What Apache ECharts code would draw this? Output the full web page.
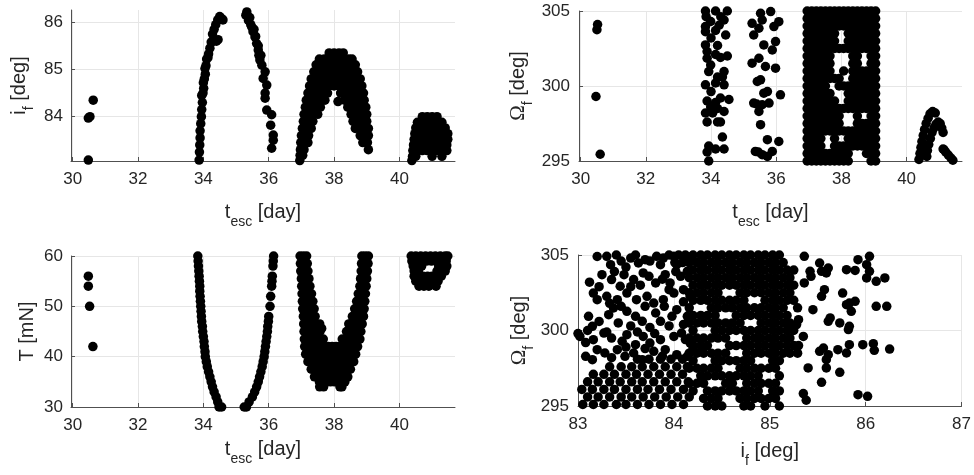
<!DOCTYPE html>
<html><head><meta charset="utf-8">
<script src="https://cdn.jsdelivr.net/npm/echarts@6/dist/echarts.min.js"></script>
<style>html,body{margin:0;padding:0;background:#fff}#c{width:974px;height:475px}</style>
</head><body><div id="c"></div>
<script>
// ---------------- tick labels ----------------
const tescTicks = [30, 32, 34, 36, 38, 40];
const incTicks = [84, 85, 86];

// ---------------- Panel 1: t_esc vs i_f ----------------
const p1Early = [[30.48,83.08],[30.48,83.97],[30.53,84.0],[30.63,84.35]];
const p1Rise = [[33.87,83.08],[33.88,83.25],[33.89,83.4],[33.9,83.55],[33.9,83.7],[33.92,83.85],[33.94,84.0],[33.95,84.15],[33.97,84.3],[33.95,84.45],[33.99,84.5],[34.01,84.6],[34.0,84.72],[34.03,84.8],[34.06,84.9],[34.05,85.02],[34.08,85.08],[34.1,85.22],[34.14,85.25],[34.16,85.33],[34.2,85.45],[34.24,85.58],[34.3,85.6],[34.4,85.6],[34.45,85.63],[34.28,85.75],[34.33,85.85],[34.38,85.95],[34.44,86.05],[34.5,86.12],[34.56,86.08],[34.6,86.05]];
const p1Fall = [[35.33,86.22],[35.3,86.15],[35.38,86.04],[35.42,86.1],[35.45,85.95],[35.48,85.9],[35.52,85.8],[35.55,85.85],[35.58,85.69],[35.6,85.7],[35.63,85.55],[35.68,85.5],[35.68,85.41],[35.7,85.3],[35.76,85.3],[35.73,85.2],[35.79,85.09],[35.89,84.95],[35.83,84.81],[35.94,84.67],[35.89,84.5],[35.89,84.39],[35.94,84.14],[36.09,84.04],[36.06,83.82],[36.14,83.61],[36.14,83.5],[36.09,83.33]];
// rows: [i_f, [t_esc ...]]
const p1BlobRows = [
 [85.35,[37.85,38.0,38.15,38.28]],
 [85.22,[37.55,37.7,37.85,38.0,38.15,38.3,38.45,38.55]],
 [85.1,[37.45,37.6,37.75,37.9,38.05,38.2,38.35,38.5,38.65]],
 [84.95,[37.38,37.52,37.66,37.8,37.94,38.08,38.22,38.36,38.5,38.64,38.72]],
 [84.8,[37.3,37.45,37.6,37.75,37.9,38.05,38.2,38.35,38.5,38.65,38.8]],
 [84.65,[37.25,37.4,37.55,37.7,37.85,38.0,38.15,38.3,38.45,38.6,38.75,38.85]],
 [84.5,[37.2,37.35,37.5,37.65,37.8,38.2,38.35,38.5,38.65,38.8,38.9]],
 [84.35,[37.15,37.3,37.45,37.6,37.72,38.32,38.47,38.62,38.77,38.92]],
 [84.2,[37.12,37.27,37.42,37.58,38.42,38.57,38.72,38.87,38.97]],
 [84.05,[37.08,37.22,37.36,37.5,38.52,38.66,38.8,38.94,39.0]],
 [83.9,[37.06,37.2,37.35,38.58,38.72,38.86,39.0]],
 [83.75,[37.03,37.16,37.3,38.65,38.8,38.95,39.05]],
 [83.6,[37.0,37.12,37.22,38.8,38.95,39.05]],
 [83.45,[36.98,37.1,37.2,38.88,39.02]],
 [83.3,[36.97,37.08,39.05]],
 [83.18,[36.96,37.04]],
 [83.07,[36.95]]
];
const p1Lone = [[38.12,84.32]];
const p1LateRows = [
 [84.0,[40.7,40.85,41.0,41.15]],
 [83.88,[40.55,40.7,40.85,41.0,41.15,41.3]],
 [83.76,[40.5,40.65,40.8,40.95,41.1,41.25,41.4]],
 [83.64,[40.47,40.62,40.77,40.92,41.07,41.22,41.37,41.48]],
 [83.52,[40.45,40.6,40.75,40.9,41.05,41.2,41.35,41.48]],
 [83.4,[40.43,40.58,40.73,40.88,41.03,41.18,41.33,41.45]],
 [83.28,[40.41,40.55,40.7,40.85,41.0,41.12,41.32,41.45]],
 [83.16,[40.4,40.5,41.0,41.3]],
 [83.07,[40.38]]
];

// ---------------- Panel 2: t_esc vs Omega_f ----------------
const p2Early = [[30.52,304.1],[30.5,303.75],[30.47,299.3],[30.6,295.45]];
const p2Group34 = [[33.83,305.0],[34.14,305.0],[34.5,305.0],[33.85,304.62],[34.3,304.62],[33.99,304.3],[34.4,304.4],[33.83,303.96],[34.25,304.05],[33.83,303.62],[34.14,303.7],[34.45,303.4],[34.0,303.2],[33.83,302.74],[34.2,302.7],[33.88,302.3],[34.14,302.1],[34.5,302.0],[33.88,301.85],[34.29,301.9],[33.99,301.4],[34.4,300.96],[33.93,300.96],[34.2,300.6],[34.35,300.6],[33.83,300.08],[34.14,300.2],[34.4,300.08],[34.0,299.63],[33.88,299.0],[34.29,299.2],[34.14,298.9],[34.55,299.1],[33.99,298.6],[34.2,298.5],[34.4,298.3],[33.83,298.2],[34.05,298.2],[33.88,297.6],[34.2,297.6],[34.29,297.6],[34.35,296.6],[33.93,296.0],[34.14,295.8],[34.4,295.8],[33.88,295.6],[33.93,295.0]];
const p2Group35 = [[35.52,304.85],[35.83,304.96],[36.08,304.29],[35.26,304.18],[35.57,304.4],[35.47,303.85],[35.93,303.96],[35.31,303.4],[35.62,302.74],[35.98,302.96],[35.88,302.4],[35.47,301.85],[35.26,301.52],[35.67,301.3],[35.98,301.19],[35.52,300.41],[35.42,300.3],[35.73,299.63],[35.62,299.52],[36.13,299.41],[35.31,298.86],[35.4,298.8],[35.57,298.75],[35.78,298.86],[35.47,298.3],[35.52,297.42],[35.73,296.42],[36.08,296.3],[35.36,295.64],[35.57,295.42],[35.73,295.3],[35.88,295.64],[35.45,295.6]];
// rows: [Omega_f, [t_esc ...]]
const p2BlockRows = [
 [305.0,[36.95,37.09,37.23,37.37,37.51,37.65,37.79,37.93,38.07,38.21,38.35,38.49,38.63,38.77,38.91,39.05]],
 [304.5,[36.95,37.09,37.23,37.37,37.51,37.65,37.79,37.93,38.07,38.21,38.35,38.49,38.63,38.77,38.91,39.05]],
 [304.0,[36.95,37.09,37.23,37.37,37.51,37.65,37.79,37.93,38.07,38.21,38.35,38.49,38.63,38.77,38.91,39.05]],
 [303.5,[36.95,37.09,37.23,37.37,37.51,37.65,37.79,38.21,38.35,38.49,38.63,38.77,38.91,39.05]],
 [303.0,[36.95,37.09,37.23,37.37,37.51,37.65,37.79,38.21,38.35,38.49,38.63,38.77,38.91,39.05]],
 [302.5,[36.95,37.09,37.23,37.37,37.51,37.65,37.79,37.93,38.07,38.21,38.35,38.49,38.63,38.77,38.91,39.05]],
 [302.0,[36.95,37.09,37.23,37.37,37.51,37.65,38.35,38.49,38.91,39.05]],
 [301.5,[36.95,37.09,37.23,37.37,37.51,37.65,38.35,38.49,38.91,39.05]],
 [301.0,[36.95,37.09,37.23,37.37,37.51,37.65,38.07,38.35,38.49,38.63,38.77,38.91,39.05]],
 [300.5,[36.95,37.09,37.23,37.37,37.51,37.65,37.79,37.93,38.35,38.49,38.63,38.77,38.91,39.05]],
 [300.0,[36.95,37.09,37.23,37.37,37.51,37.93,38.07,38.21,38.35,38.49,38.63,38.77,38.91,39.05]],
 [299.5,[36.95,37.09,37.23,37.37,37.51,37.65,38.21,38.35,38.49,38.63,38.77,38.91,39.05]],
 [299.0,[36.95,37.09,37.23,37.37,37.51,37.65,37.79,38.21,38.35,38.49,38.63,38.77,38.91,39.05]],
 [298.5,[36.95,37.09,37.23,37.37,37.51,37.65,37.79,37.93,38.07,38.21,38.35,38.49,38.63,38.77,38.91,39.05]],
 [298.0,[36.95,37.09,37.23,37.37,37.51,37.65,37.79,37.93,38.49,38.91,39.05]],
 [297.5,[36.95,37.09,37.23,37.37,37.51,37.65,37.79,37.93,38.49,38.63,38.77,38.91,39.05]],
 [297.0,[36.95,37.09,37.23,37.37,37.51,37.65,37.79,37.93,38.07,38.21,38.35,38.49,38.63,38.77,38.91,39.05]],
 [296.5,[36.95,37.09,37.23,37.37,37.79,38.21,38.35,38.49,38.63,38.77,38.91,39.05]],
 [296.0,[36.95,37.09,37.23,37.37,37.79,37.93,38.07,38.21,38.35,38.49,38.63,38.77,38.91,39.05]],
 [295.5,[36.95,37.09,37.23,37.37,37.51,37.65,37.79,37.93,38.07,38.21,38.77,38.91,39.05]],
 [295.0,[36.95,37.09,37.23,37.37,37.51,37.65,37.79,37.93,38.07,38.21,38.91,39.05]]
];
const p2Late = [[40.38,295.1],[40.41,295.5],[40.44,295.9],[40.47,296.3],[40.51,296.7],[40.55,297.1],[40.6,297.5],[40.66,297.85],[40.72,298.15],[40.8,298.3],[40.88,298.2],
 [40.62,295.3],[40.64,295.7],[40.68,296.1],[40.73,296.5],[40.78,296.9],[40.84,297.2],[40.9,297.45],[40.97,297.6],[41.03,297.5],[41.08,297.2],[41.12,296.9],
 [41.12,295.8],[41.15,295.75],[41.2,295.6],[41.28,295.4],[41.36,295.2],[41.42,295.05]];

// ---------------- Panel 3: t_esc vs T ----------------
const p3Early = [[30.48,56],[30.48,54],[30.52,50],[30.62,42]];
const p3Left = [[33.83,60],[33.84,59],[33.85,58],[33.86,57],[33.87,56],[33.88,55],[33.89,54],[33.89,53],[33.9,52],[33.91,51],[33.92,50],[33.93,49],[33.94,48],[33.95,47],[33.97,46],[33.98,45],[34.0,44],[34.02,43],[34.03,42],[34.05,41],[34.06,40],[34.09,39],[34.12,38],[34.16,37],[34.2,36],[34.24,35],[34.28,34],[34.33,33],[34.39,32],[34.44,31],[34.48,30],[34.56,30]];
const p3Right = [[35.25,30],[35.32,30],[35.4,31],[35.5,32],[35.57,33],[35.63,34],[35.68,35],[35.72,36],[35.76,37],[35.8,38],[35.83,39],[35.86,40],[35.88,41],[35.9,42],[35.92,43],[35.94,44],[35.96,45],[35.97,46],[35.99,47],[36.0,48],[36.04,50],[36.06,52],[36.09,54],[36.1,55],[36.11,56],[36.13,58],[36.14,59],[36.15,60]];
// rows: [T, [t_esc ...]]
const p3VRows = [
 [60,[36.96,37.06,37.16,38.85,38.95,39.05]],
 [58.5,[36.97,37.07,37.18,38.84,38.94,39.04]],
 [57,[36.98,37.09,37.2,38.83,38.93,39.02]],
 [55.5,[37.0,37.11,37.23,38.81,38.91,39.0]],
 [54,[37.01,37.13,37.26,38.79,38.89,38.98]],
 [52.5,[37.02,37.14,37.27,37.31,38.74,38.85,38.96]],
 [51,[37.03,37.15,37.27,37.35,38.69,38.8,38.94]],
 [49.5,[37.04,37.16,37.28,37.39,38.63,38.76,38.92]],
 [48,[37.06,37.18,37.3,37.42,38.56,38.7,38.84,38.9]],
 [46.5,[37.07,37.2,37.33,37.46,37.56,38.45,38.5,38.63,38.76,38.86]],
 [45.6,[37.62]],
 [45,[37.08,37.21,37.34,37.47,37.57,38.38,38.5,38.62,38.74,38.82]],
 [43.5,[37.09,37.22,37.35,37.48,37.6,37.67,38.25,38.38,38.5,38.62,38.72,38.79]],
 [42,[37.1,37.22,37.34,37.46,37.58,37.7,37.82,37.94,38.06,38.18,38.3,38.42,38.54,38.66,38.72]],
 [40.5,[37.13,37.25,37.37,37.49,37.61,37.73,37.85,37.97,38.09,38.21,38.33,38.45,38.57,38.66]],
 [39,[37.2,37.32,37.44,37.56,37.68,37.8,37.92,38.04,38.16,38.28,38.4,38.52,38.6]],
 [37.5,[37.3,37.42,37.54,37.66,37.78,37.9,38.02,38.14,38.26,38.38,38.5]],
 [36,[37.4,37.52,37.64,37.76,37.88,38.0,38.12,38.24,38.36,38.42]],
 [35,[37.55,37.65,37.77,37.89,38.01,38.13,38.25,38.33]],
 [34,[37.56,37.68,38.18,38.24]]
];
const p3LateRows = [
 [60,[40.36,40.5,40.65,40.8,40.95,41.1,41.25,41.4,41.48]],
 [59,[40.38,40.53,40.68,40.83,40.98,41.13,41.28,41.43]],
 [58,[40.42,40.55,40.68,41.2,41.33,41.45]],
 [57,[40.45,40.58,41.15,41.3,41.4]],
 [56,[40.45,40.58,40.72,40.86,41.0,41.15,41.28]],
 [55,[40.5,40.64,40.78,40.92,41.06,41.18]],
 [54,[40.6,40.75,40.9,41.12]]
];

// ---------------- Panel 4: i_f vs Omega_f ----------------
const p4Scatter = [[83.3,304.91],[83.34,304.36],[83.55,304.8],[83.63,304.47],[83.7,304.69],[83.82,304.91],[83.89,304.8],[84.0,304.91],[83.86,304.36],[84.03,304.36],[84.12,304.69],[84.19,304.91],
 [83.25,303.7],[83.35,303.37],[83.44,302.93],[83.48,303.7],[83.58,303.37],[83.68,303.81],[83.74,303.59],[83.81,303.15],[83.91,303.7],[83.96,303.15],[84.07,303.59],[84.14,303.92],
 [83.16,302.48],[83.2,302.04],[83.3,302.26],[83.41,302.04],[83.51,302.48],[83.61,302.04],[83.72,302.26],[83.79,301.82],[83.89,302.04],[84.0,302.48],[84.1,302.7],[84.17,302.26],
 [83.11,300.94],[83.15,300.28],[83.32,301.05],[83.37,301.49],[83.51,301.27],[83.6,300.94],[83.67,300.61],[83.81,301.16],[83.86,300.61],[83.98,300.94],[84.03,301.38],[84.14,300.94],
 [83.02,299.61],[83.16,299.39],[83.2,298.73],[83.27,299.83],[83.35,299.5],[83.46,299.28],[83.51,299.72],[83.6,299.06],[83.68,299.61],[83.75,299.17],[83.86,299.39],[83.91,298.73],[84.0,299.61],[84.08,299.83],[84.17,299.17],
 [83.08,298.29],[83.15,298.07],[83.28,298.51],[83.41,298.73],[83.49,298.29],[83.58,298.51],[83.67,298.07],[83.79,298.62],[84.03,298.4],[84.14,298.29],
 [83.2,304.9],[83.45,304.6],[83.38,303.9],[83.12,303.2],[83.22,302.9],[83.55,302.9],[83.65,303.0],[83.88,303.4],[84.02,303.9],[83.95,302.7],[83.33,301.8],[83.45,301.6],[83.7,301.6],[83.9,301.6],[84.1,301.9],[83.22,300.6],[83.42,300.5],[83.55,300.3],[83.75,300.2],[83.95,300.3],[84.1,300.4],[83.08,299.2],[83.3,299.9],[83.62,299.9],[83.8,299.8],[84.12,299.4],[83.5,298.9],[83.7,298.8],[83.88,298.3],[83.35,298.2],[84.2,298.8],[83.1,300.0],[83.0,299.8],
 [83.4,305.0],[83.6,305.0],[83.75,304.6],[83.95,305.0],[83.5,304.2]];
const p4Sparse = [[85.36,304.91],[85.52,304.47],[85.61,304.14],[85.42,303.92],[85.54,303.92],[85.43,303.59],[85.59,303.81],[85.8,304.03],[85.89,303.98],[85.92,304.69],[86.04,304.91],[86.01,304.36],[86.04,303.92],[86.01,303.48],[86.11,303.26],[86.2,303.48],[85.36,303.15],[85.57,302.7],[85.54,302.26],[85.76,302.48],[85.83,301.82],[85.89,301.93],[85.8,301.71],[85.85,301.27],[86.11,301.6],[86.22,301.6],[85.45,301.38],[85.63,300.83],[85.61,300.61],[85.73,300.5],[85.83,300.28],[85.82,300.06],[85.19,300.06],[85.28,300.39],[85.3,300.72],[85.35,299.61],[85.52,298.62],[85.56,298.84],[85.61,298.4],[85.59,298.07],[85.71,298.73],[85.8,298.51],[85.83,299.06],[85.97,299.06],[86.08,299.13],[86.09,298.69],[86.25,298.77],[85.4,297.52],[85.59,297.52],[85.73,297.23],[85.54,296.57],[85.35,295.82],[85.38,295.38],[85.92,295.75],[86.02,295.64]];
// rows: [Omega_f, [i_f ...]]
const p4LowRows = [
 [295.1,[83.05,83.16,83.27,83.4,83.5,83.62,83.74,83.86,83.98,84.1]],
 [295.6,[83.1,83.21,83.33,83.45,83.56,83.68,83.8,83.92,84.04,84.16]],
 [296.1,[83.04,83.15,83.27,83.38,83.5,83.62,83.73,83.85,83.97,84.1]],
 [296.6,[83.1,83.21,83.33,83.44,83.56,83.67,83.79,83.91,84.03,84.15]],
 [297.1,[83.16,83.27,83.38,83.5,83.61,83.73,83.85,83.97,84.09]],
 [297.6,[83.33,83.45,83.56,83.67,83.79,83.91,84.03,84.14]],
 [298.1,[83.62,83.74,83.86,83.97,84.09]]
];
const p4DenseRows = [
 [305.0,[84.05,84.12,84.2,84.28,84.35,84.43,84.5,84.58,84.65,84.73,84.8,84.88,84.95,85.03,85.1]],
 [304.5,[84.01,84.09,84.16,84.24,84.31,84.39,84.46,84.54,84.61,84.69,84.76,84.84,84.91,84.99,85.06,85.14]],
 [304.0,[84.2,84.28,84.35,84.43,84.5,84.58,84.65,84.73,84.8,84.88,84.95,85.03,85.1,85.18,85.25]],
 [303.5,[84.16,84.24,84.31,84.39,84.46,84.54,84.61,84.69,84.76,84.84,84.91,84.99,85.06,85.14,85.21]],
 [303.0,[84.2,84.28,84.35,84.43,84.5,84.58,84.65,84.73,84.8,84.88,84.95,85.03,85.1,85.18,85.25]],
 [302.5,[84.16,84.24,84.31,84.39,84.46,84.69,84.76,84.84,84.91,84.99,85.06,85.14,85.21]],
 [302.0,[84.2,84.28,84.35,84.43,84.5,84.58,84.65,84.73,84.95,85.03,85.1,85.18,85.25]],
 [301.5,[84.16,84.39,84.46,84.54,84.61,84.69,84.76,84.84,84.91,84.99,85.06,85.14,85.29]],
 [301.0,[84.2,84.28,84.35,84.43,84.65,84.73,84.8,84.88,84.95,85.03,85.1,85.18]],
 [300.5,[84.16,84.24,84.31,84.39,84.46,84.54,84.61,84.69,84.91,84.99,85.06,85.14,85.21]],
 [300.0,[84.2,84.43,84.5,84.58,84.65,84.73,84.8,84.88,84.95,85.03,85.1,85.18,85.25]],
 [299.5,[84.16,84.24,84.31,84.39,84.46,84.54,84.76,84.84,84.91,84.99,85.06,85.14,85.21]],
 [299.0,[84.2,84.28,84.35,84.58,84.65,84.73,84.8,84.88,84.95,85.03,85.1,85.18,85.25,85.3]],
 [298.5,[84.16,84.24,84.31,84.39,84.46,84.54,84.76,84.84,84.91,84.99,85.06,85.14,85.21,85.29]],
 [298.0,[84.2,84.43,84.5,84.58,84.65,84.73,84.8,85.03,85.1]],
 [297.5,[84.16,84.24,84.31,84.39,84.46,84.69,84.76,84.84,84.91,84.99,85.06]],
 [297.0,[84.28,84.35,84.43,84.5,84.58,84.65,84.73,84.8,84.88,85.1]],
 [296.5,[84.16,84.24,84.31,84.54,84.61,84.76,84.84,84.91,84.99,85.06]],
 [296.0,[84.2,84.35,84.43,84.5,84.58,84.65,84.73,84.8,84.88,85.03,85.1]],
 [295.5,[84.31,84.39,84.46,84.69,84.76,84.84,84.91,84.99,85.06]],
 [295.0,[84.35,84.43,84.5,84.73,84.8,84.95,85.1]]
];

// ---------------- build ----------------
function fromRows(rows) { // rows: [yValue, [xValues]] -> [x, y]
  const out = [];
  rows.forEach(r => r[1].forEach(x => out.push([x, r[0]])));
  return out;
}
const panel1 = [].concat(p1Early, p1Rise, p1Fall, fromRows(p1BlobRows), p1Lone, fromRows(p1LateRows));
const panel2 = [].concat(p2Early, p2Group34, p2Group35, fromRows(p2BlockRows), p2Late);
const panel3 = [].concat(p3Early, p3Left, p3Right, fromRows(p3VRows), fromRows(p3LateRows));
const panel4 = [].concat(p4Scatter, p4Sparse, fromRows(p4LowRows), fromRows(p4DenseRows));

const FONT = '"Liberation Sans", Arial, Helvetica, sans-serif';
const TXT = '#262626';
const AXIS = '#505050';
const rich = {
  n: {fontFamily: FONT, fontSize: 20, color: TXT, lineHeight: 34, verticalAlign: 'middle'},
  s: {fontFamily: FONT, fontSize: 14, color: TXT, lineHeight: 14, verticalAlign: 'bottom'},
  o: {fontFamily: '"Liberation Serif", "DejaVu Serif", serif', fontSize: 21, color: TXT, lineHeight: 34, verticalAlign: 'middle'}
};
function axis(gi, o) {
  const ax = {
    type: 'value', gridIndex: gi, min: o.min, max: o.max, scale: true,
    axisLine: {show: true, onZero: false, lineStyle: {color: AXIS, width: 1}},
    axisTick: {show: true, inside: true, length: 4, lineStyle: {color: AXIS}},
    axisLabel: {color: TXT, fontFamily: FONT, fontSize: 17, margin: o.margin},
    splitLine: {show: true, lineStyle: {color: '#e6e6e6', width: 1}},
    name: o.name, nameLocation: 'middle', nameGap: o.gap,
    nameTextStyle: {color: TXT, fontFamily: FONT, fontSize: 20, rich: rich}
  };
  if (o.interval) ax.interval = o.interval;
  if (o.ticks) { ax.axisTick.customValues = o.ticks; ax.axisLabel.customValues = o.ticks; }
  return ax;
}
const tName = '{n|t}{s|esc}{n| [day]}';
const option = {
  animation: false,
  backgroundColor: '#fff',
  grid: [
    {left: 71, top: 10, width: 384, height: 151},
    {left: 579, top: 11, width: 383, height: 150},
    {left: 71, top: 256, width: 384, height: 151},
    {left: 578, top: 255, width: 384, height: 151}
  ],
  xAxis: [
    axis(0, {min: 29.95, max: 41.7, ticks: tescTicks, name: tName, gap: 34, margin: 10}),
    axis(1, {min: 29.95, max: 41.7, ticks: tescTicks, name: tName, gap: 34, margin: 10}),
    axis(2, {min: 29.95, max: 41.7, ticks: tescTicks, name: tName, gap: 25, margin: 10}),
    axis(3, {min: 83, max: 87, interval: 1, name: '{n|i}{s|f}{n| [deg]}', gap: 28, margin: 10})
  ],
  yAxis: [
    axis(0, {min: 83.06, max: 86.26, ticks: incTicks, name: '{n|i}{s|f}{n| [deg]}', gap: 35, margin: 8}),
    axis(1, {min: 295, max: 305, interval: 5, name: '{o|Ω}{s|f}{n| [deg]}', gap: 44, margin: 9}),
    axis(2, {min: 30, max: 60, interval: 10, name: '{n|T [mN]}', gap: 27, margin: 8}),
    axis(3, {min: 295, max: 305, interval: 5, name: '{o|Ω}{s|f}{n| [deg]}', gap: 42, margin: 9})
  ],
  series: [panel1, panel2, panel3, panel4].map((d, k) => ({
    type: 'scatter', xAxisIndex: k, yAxisIndex: k, data: d,
    symbol: 'circle', symbolSize: 9.5, clip: false, silent: true,
    itemStyle: {color: '#000', opacity: 1, borderWidth: 0}
  }))
};
const chart = echarts.init(document.getElementById('c'));
chart.setOption(option);
</script></body></html>
